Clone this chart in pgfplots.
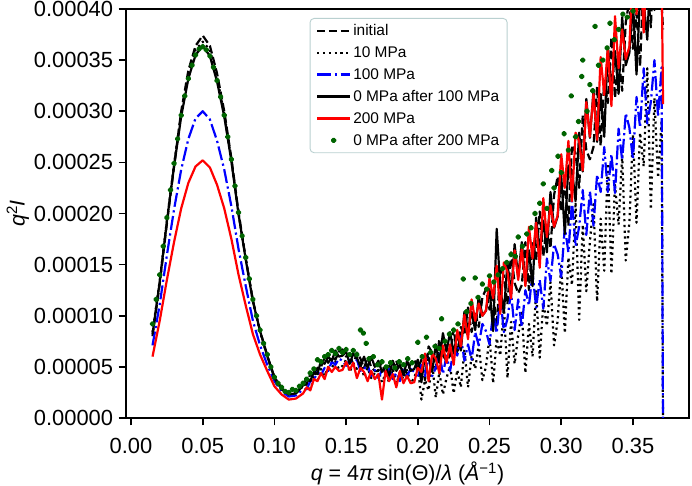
\documentclass[border=0pt]{standalone}
\usepackage{fontspec}
\setmainfont{Liberation Sans}
\usepackage{pgfplots}
\usepackage{pgfplotstable}
\pgfplotsset{compat=1.18}
\definecolor{legframe}{RGB}{185,208,208}
\definecolor{dgreen}{RGB}{0,100,0}

% values in units of 1e-6
\pgfplotstableread{
x I D B K R
0.015 80 84 71 82 60
0.020 131 134 111 133 95
0.025 190 193 159 192 135
0.030 246 248 204 246 172
0.035 300 298 243 295 205
0.040 340 336 273 332 230
0.045 364 360 293 355 246
0.050 374 368 300 364 252
0.055 364 360 292 354 245
0.060 337 333 271 329 228
0.065 300 298 243 295 205
0.070 254 252 207 251 175
0.075 201 200 165 199 140
0.080 156 156 129 155 110
0.085 115 114 95 114 82
0.090 85 84 71 85 62
0.095 61 60 52 61 46
0.100 40 40 36 39 31
0.105 29 29 26 28 23
0.110 24 23 21 23 18
0.115 25 24 22 24 19
0.120 32 31 28 32 24
0.1225 33 33 28 39 30
0.1250 43 28 36 36 27
0.1275 39 38 37 45 38
0.1300 49 36 45 43 36
0.1325 50 48 42 56 44
0.1350 59 41 49 53 38
0.1375 54 50 46 60 50
0.1400 60 49 55 56 45
0.1425 57 55 52 66 50
0.1450 65 48 58 60 46
0.1475 67 51 56 61 47
0.1500 60 57 51 65 55
0.1525 63 45 57 53 47
0.1550 52 53 51 63 54
0.1575 64 48 57 59 39
0.1600 58 56 46 50 49
0.1625 49 40 48 60 45
0.1650 59 49 52 49 36
0.1675 50 39 41 60 46
0.1700 46 44 47 50 38
0.1725 46 47 39 56 43
0.1750 56 35 47 45 18
0.1775 42 43 42 51 46
0.1800 51 35 48 41 36
0.1825 46 48 38 56 43
0.1850 56 34 44 46 30
0.1875 43 44 36 52 46
0.1900 50 38 47 42 34
0.1925 43 47 41 56 41
0.1950 54 34 48 46 34
0.1975 57 39 45 48 35
0.2000 48 50 39 57 49
0.2025 57 18 52 35 45
0.2050 37 37 41 62 63
0.2075 70 27 61 59 36
0.2100 64 54 41 45 63
0.2125 48 20 49 72 58
0.2150 77 45 63 54 44
0.2175 61 23 43 83 71
0.2200 56 39 61 65 54
0.2225 61 51 46 84 72
0.2250 87 24 68 63 52
0.2275 62 47 61 83 86
0.2300 89 30 80 66 70
0.2325 81 67 56 104 101
0.2350 108 30 72 86 77
0.2375 84 61 57 104 116
0.2400 103 48 84 86 95
0.2425 89 72 71 119 112
0.2450 118 37 92 100 100
0.2475 126 50 85 105 105
0.2500 106 79 72 126 137
0.2525 123 34 103 85 117
0.2550 89 78 83 185 149
0.2575 147 61 119 128 102
0.2600 139 109 84 103 152
0.2625 111 39 97 152 143
0.2650 162 94 123 120 117
0.2675 132 53 86 170 164
0.2700 122 81 116 138 135
0.2725 130 103 89 172 166
0.2750 172 44 125 131 129
0.2775 125 92 110 164 187
0.2800 171 60 142 129 156
0.2825 154 125 108 196 191
0.2850 202 59 135 164 147
0.2875 158 113 107 193 215
0.2900 190 90 156 162 177
0.2925 166 133 134 221 208
0.2950 218 71 170 186 187
0.2975 236 95 160 197 198
0.3000 202 149 138 237 258
0.3025 230 83 187 180 225
0.3050 188 157 162 247 271
0.3075 267 130 212 242 212
0.3100 259 211 168 212 279
0.3125 225 96 187 279 271
0.3150 296 189 223 241 242
0.3175 262 124 179 312 309
0.3200 253 173 222 274 275
0.3225 265 209 188 320 317
0.3250 324 114 238 270 272
0.3275 266 195 221 317 353
0.3300 330 144 265 275 316
0.3325 308 249 221 363 362
0.3350 372 141 258 322 305
0.3375 313 228 220 359 393
0.3400 354 189 283 317 342
0.3425 320 257 252 392 380
0.3450 387 154 298 345 351
0.3475 408 191 284 357 363
0.3500 361 277 253 407 439
0.3525 396 191 314 336 395
0.3550 344 279 284 414 449
0.3575 437 246 342 407 377
0.3600 425 342 288 370 456
0.3625 382 204 309 447 443
0.3650 464 313 350 399 405
0.3675 420 235 295 480 482
0.3700 406 291 343 431 438
0.3710 380 -20 -20 420 307
}\lines

\pgfplotstableread{
x y
0.0150 92
0.0175 116
0.0200 140
0.0225 168
0.0250 196
0.0275 223
0.0300 249
0.0325 273
0.0350 296
0.0375 315
0.0400 332
0.0425 345
0.0450 355
0.0475 361
0.0500 363
0.0525 360
0.0550 354
0.0575 343
0.0600 330
0.0625 314
0.0650 296
0.0675 275
0.0700 253
0.0725 227
0.0750 201
0.0775 178
0.0800 157
0.0825 136
0.0850 116
0.0875 100
0.0900 86
0.0925 73
0.0950 62
0.0975 50
0.1000 40
0.1025 34
0.1050 30
0.1075 26
0.1100 25
0.1125 28
0.1150 27
0.1175 31
0.1200 34
0.1225 38
0.1250 44
0.1275 48
0.1300 57
0.1325 55
0.1350 60
0.1375 62
0.1400 66
0.1425 63
0.1450 68
0.1475 64
0.1500 67
0.1525 62
0.1550 66
0.1575 62
0.1600 86
0.1620 83
0.1640 73
0.1660 58
0.1690 60
0.1720 52
0.1750 55
0.1780 50
0.1810 54
0.1840 49
0.1870 55
0.1900 52
0.1930 58
0.1960 54
0.2000 74
0.2030 60
0.2060 79
0.2090 64
0.2120 70
0.2150 68
0.2166 97
0.2190 75
0.2220 82
0.2250 86
0.2280 92
0.2317 136
0.2340 104
0.2370 112
0.2400 137
0.2420 118
0.2450 131
0.2480 126
0.2500 139
0.2530 133
0.2560 140
0.2590 146
0.2620 152
0.2650 160
0.2680 158
0.2700 177
0.2730 168
0.2760 180
0.2790 186
0.2817 200
0.2850 210
0.2875 229
0.2900 205
0.2934 242
0.2950 225
0.2978 256
0.3000 240
0.3020 278
0.3050 262
0.3070 315
0.3100 275
0.3120 290
0.3143 334
0.3150 350
0.3180 300
0.3200 326
0.3220 320
0.3236 383
0.3260 345
0.3290 350
0.3320 362
0.3340 386
0.3370 370
0.3400 380
0.3430 395
0.3460 392
0.3500 398
0.3550 420
0.3600 430
}\greendots

\begin{document}
\begin{tikzpicture}
\begin{axis}[
  scale only axis,
  width=563bp, height=409bp,
  xmin=-0.0035, xmax=0.3891,
  ymin=0, ymax=400,
  scaled ticks=false,
  xtick={0,0.05,0.1,0.15,0.2,0.25,0.3,0.35},
  xticklabels={0.00,0.05,0.10,0.15,0.20,0.25,0.30,0.35},
  ytick={0,50,100,150,200,250,300,350,400},
  yticklabels={0.00000,0.00005,0.00010,0.00015,0.00020,0.00025,0.00030,0.00035,0.00040},
  xtick pos=bottom, ytick pos=left,
  tick align=outside,
  major tick length=7.4bp,
  tick style={line width=1.6bp, black},
  axis line style={line width=1.7bp},
  tick label style={font=\fontsize{22}{26}\selectfont},
  xticklabel style={yshift=-9bp},
  yticklabel style={xshift=-2bp},
  label style={font=\fontsize{21.5}{26}\selectfont},
  xlabel={\textit{q} = 4\textit{π}\,sin(Θ)/\textit{λ} (\textit{Å}\textsuperscript{−1})},
  ylabel={\textit{q}\textsuperscript{2}\textit{I}},
  xlabel shift=2bp,
  ylabel shift=-2bp,
  legend cell align=left,
  legend style={at={(0.502,0.978)}, anchor=north,
    font=\fontsize{15.5}{18}\selectfont,
    draw=legframe, line width=0.9bp, rounded corners=4bp,
    fill=white, inner xsep=6bp, inner ysep=4bp, row sep=5.5bp},
  legend image code/.code={\draw[mark repeat=2,mark phase=2,#1] plot coordinates {(0bp,0bp) (16.5bp,0bp) (33bp,0bp)};},
  every axis plot/.append style={line width=2.2bp, line join=round},
]
\addplot[black, dash pattern=on 8.2bp off 3.6bp] table[x=x,y=I] {\lines};
\addlegendentry{initial}
\addplot[black, dash pattern=on 2.2bp off 3.6bp] table[x=x,y=D] {\lines};
\addlegendentry{10 MPa}
\addplot[blue, dash pattern=on 14bp off 3.6bp on 2.2bp off 3.6bp] table[x=x,y=B] {\lines};
\addlegendentry{100 MPa}
\addplot[black] table[x=x,y=K] {\lines};
\addlegendentry{0 MPa after 100 MPa}
\addplot[red] table[x=x,y=R] {\lines};
\addlegendentry{200 MPa}
\addplot[only marks, mark=*, mark size=1.8bp, dgreen, mark options={draw=dgreen, fill=dgreen}] table[x=x,y=y] {\greendots};
\addlegendentry{0 MPa after 200 MPa}
\end{axis}
\pgfresetboundingbox
\path[use as bounding box] ([xshift=-126bp,yshift=-68bp]current axis.south west) rectangle ([xshift=3bp,yshift=9bp]current axis.north east);
\end{tikzpicture}
\end{document}
